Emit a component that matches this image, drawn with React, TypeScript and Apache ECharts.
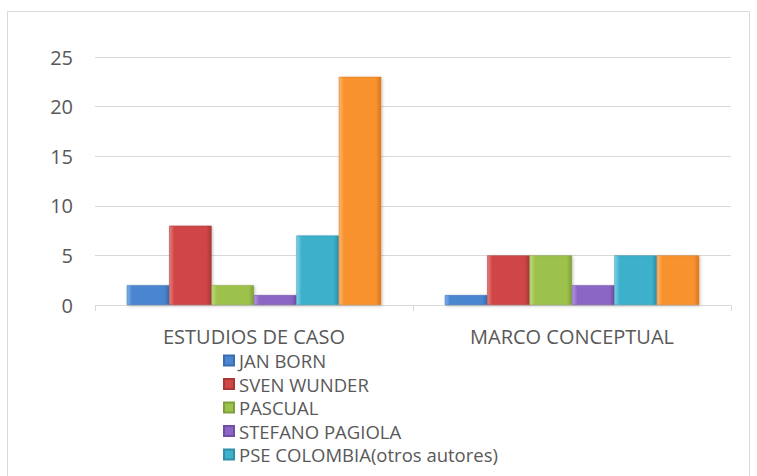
import React, { useEffect, useRef } from "react";
import * as echarts from "echarts";

const categories = ["ESTUDIOS DE CASO", "MARCO CONCEPTUAL"];
const seriesNames = [
  "JAN BORN",
  "SVEN WUNDER",
  "PASCUAL",
  "STEFANO PAGIOLA",
  "PSE COLOMBIA(otros autores)",
  "OTROS",
];
const janBorn = [2, 1];
const svenWunder = [8, 5];
const pascual = [2, 5];
const stefanoPagiola = [1, 2];
const pseColombia = [7, 5];
const otros = [23, 5];
const yTicks = [0, 5, 10, 15, 20, 25];

const colors = ["#4a86cf", "#d04545", "#9cc24c", "#8c66c4", "#3db0cc", "#f7922f"];
const darker = ["#3a6cb0", "#a83838", "#7e9f3a", "#6f4fa3", "#2f8fa8", "#d9761d"];
const lighter = ["#7fb0ea", "#e57d7d", "#c0de7e", "#b497e6", "#7fd3e8", "#fbb872"];

export default function App() {
  const ref = useRef<HTMLDivElement>(null);
  useEffect(() => {
    if (!ref.current) return;
    const chart = echarts.init(ref.current, undefined, { renderer: "svg" });
    const values = [janBorn, svenWunder, pascual, stefanoPagiola, pseColombia, otros];
    const font = "'Open Sans', sans-serif";
    chart.setOption({
      animation: false,
      textStyle: { fontFamily: font },
      graphic: [
        {
          type: "rect",
          shape: { x: 7.5, y: 11.5, width: 742, height: 480 },
          style: { fill: "none", stroke: "#d9d9d9", lineWidth: 1 },
          silent: true,
        },
      ],
      grid: { left: 95, right: 26, top: 57, bottom: 171 },
      legend: {
        orient: "vertical",
        left: 218,
        top: 346,
        itemWidth: 10,
        itemHeight: 10,
        itemGap: 4.5,
        icon: "rect",
        data: seriesNames.slice(0, 5),
        textStyle: { fontSize: 18.5, color: "#595959", fontFamily: font },
      },
      xAxis: {
        type: "category",
        data: categories,
        axisLine: { lineStyle: { color: "#d9d9d9" } },
        axisTick: { show: true, length: 6, lineStyle: { color: "#d9d9d9" } },
        axisLabel: { fontSize: 20, color: "#595959", margin: 21 },
      },
      yAxis: {
        type: "value",
        min: 0,
        max: 25,
        interval: 5,
        axisLine: { show: false },
        axisTick: { show: false },
        splitLine: { lineStyle: { color: "#d9d9d9" } },
        axisLabel: {
          fontSize: 20,
          color: "#595959",
          margin: 22,
          formatter: (v: number) => (yTicks.includes(v) ? String(v) : ""),
        },
      },
      series: values.map((d, i) => ({
        name: seriesNames[i],
        type: "bar",
        data: d,
        barGap: "0%",
        barCategoryGap: "20%",
        itemStyle: {
          color: new echarts.graphic.LinearGradient(0, 0, 1, 0, [
            { offset: 0, color: lighter[i] },
            { offset: 0.12, color: colors[i] },
            { offset: 0.88, color: colors[i] },
            { offset: 1, color: darker[i] },
          ]),
          borderColor: darker[i],
          borderWidth: 0.5,
          shadowColor: "rgba(0,0,0,0.25)",
          shadowBlur: 3,
          shadowOffsetX: 1,
          shadowOffsetY: 1,
        },
      })),
    });
    return () => chart.dispose();
  }, []);
  return (
    <div
      ref={ref}
      style={{ position: "fixed", left: 0, top: 0, width: 757, height: 476, background: "#fff" }}
    />
  );
}
